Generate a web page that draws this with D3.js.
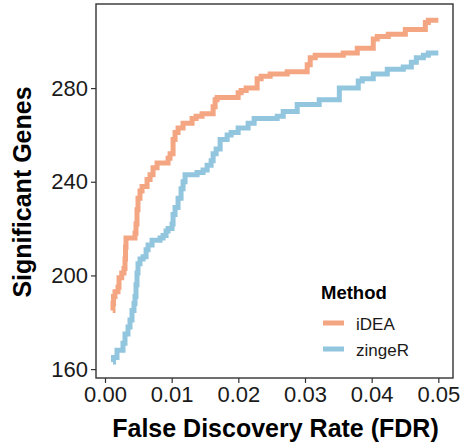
<!DOCTYPE html>
<html>
<head>
<meta charset="utf-8">
<script src="https://cdn.jsdelivr.net/npm/d3@7"></script>
<style>
  body { margin: 0; background: #fff; }
  svg { display: block; font-family: "Liberation Sans", Arial, sans-serif; }
</style>
</head>
<body>
<svg></svg>
<script>
// values
const fdrTicks = [0, 0.01, 0.02, 0.03, 0.04, 0.05]
const geneTicks = [160, 200, 240, 280]
const methods = ["iDEA", "zingeR"]

const ideaFdr = [0.00116, 0.0012, 0.00128, 0.0015, 0.00195, 0.0021, 0.00251, 0.00285, 0.003, 0.00308,
  0.00315, 0.0045, 0.00465, 0.0048, 0.00495, 0.00525, 0.00556, 0.00631, 0.00676, 0.00721,
  0.00781, 0.00946, 0.00976, 0.01021, 0.01051, 0.01096, 0.01171, 0.01306, 0.01366, 0.01456,
  0.01622, 0.01652, 0.01682, 0.01997, 0.02042, 0.02117, 0.02282, 0.02342, 0.02477, 0.02733,
  0.03033, 0.03078, 0.03153, 0.03574, 0.03784, 0.04024, 0.04084, 0.04249, 0.04505, 0.04805,
  0.0485, 0.05]
const ideaGenes = [185, 188, 191, 193, 195, 199, 201, 203, 207, 212,
  216, 218, 222, 228, 233, 236, 238, 241, 243, 246,
  248, 250, 252, 258, 261, 263, 265, 267, 268, 269,
  272, 275, 276, 278, 279, 280, 284, 285, 286, 287,
  290, 293, 294, 295, 297, 301, 302, 303, 305, 308,
  309, 309]

const zingerFdr = [0.0012, 0.00128, 0.0018, 0.0027, 0.003, 0.00345, 0.00375, 0.00405, 0.00435, 0.0045,
  0.00465, 0.0048, 0.00495, 0.00525, 0.00571, 0.00616, 0.00646, 0.00706, 0.00826, 0.00871,
  0.00916, 0.00946, 0.01006, 0.01021, 0.01051, 0.01096, 0.01141, 0.01171, 0.01201, 0.01381,
  0.01471, 0.01532, 0.01592, 0.01622, 0.01667, 0.01727, 0.01832, 0.01892, 0.01997, 0.02147,
  0.02237, 0.02583, 0.02673, 0.02883, 0.03213, 0.03515, 0.03799, 0.03859, 0.04024, 0.04234,
  0.04474, 0.04595, 0.0467, 0.04775, 0.0485, 0.05]
const zingerGenes = [163, 165, 168, 171, 175, 178, 181, 185, 188, 191,
  196, 201, 205, 207, 208, 211, 213, 215, 216, 217,
  219, 220, 222, 226, 229, 233, 237, 240, 243, 244,
  245, 247, 249, 252, 254, 258, 260, 261, 263, 265,
  267, 268, 270, 273, 275, 280, 283, 284, 286, 288,
  289, 291, 293, 294, 295, 295]

const colors = ["#F4A582", "#92C5DE"]

const series = [
  {name: methods[0], fdr: ideaFdr, genes: ideaGenes, color: colors[0]},
  {name: methods[1], fdr: zingerFdr, genes: zingerGenes, color: colors[1]}
]

const width = 462
const height = 448
const panel = {left: 96, right: 453, top: 4, bottom: 378}

const svg = d3.select("svg")
  .attr("width", width)
  .attr("height", height)

const x = d3.scaleLinear()
  .domain([-0.00135, 0.0522])
  .range([panel.left, panel.right])

const y = d3.scaleLinear()
  .domain([156.2, 315.9])
  .range([panel.bottom, panel.top])

// lines
const lineGen = d3.line()
  .x(d => x(d[0]))
  .y(d => y(d[1]))
  .curve(d3.curveStepAfter)

svg.append("g")
  .selectAll("path")
  .data(series)
  .enter()
  .append("path")
  .attr("d", s => lineGen(s.fdr.map((f, i) => [f, s.genes[i]])))
  .attr("fill", "none")
  .attr("stroke", s => s.color)
  .attr("stroke-width", 5)

// panel border
svg.append("rect")
  .attr("x", panel.left)
  .attr("y", panel.top)
  .attr("width", panel.right - panel.left)
  .attr("height", panel.bottom - panel.top)
  .attr("fill", "none")
  .attr("stroke", "#333")
  .attr("stroke-width", 1.4)

// axes
const xAxis = svg.append("g")
  .attr("transform", `translate(0,${panel.bottom})`)
  .call(d3.axisBottom(x).tickValues(fdrTicks).tickFormat(d3.format(".2f")).tickSize(5).tickPadding(3))

const yAxis = svg.append("g")
  .attr("transform", `translate(${panel.left},0)`)
  .call(d3.axisLeft(y).tickValues(geneTicks).tickSize(5).tickPadding(3))

;[xAxis, yAxis].forEach(g => {
  g.select(".domain").remove()
  g.selectAll(".tick line").attr("stroke", "#333").attr("stroke-width", 1.2)
  g.selectAll(".tick text")
    .attr("fill", "#1a1a1a")
    .style("font-size", "22px")
    .style("font-family", "'Liberation Sans', Arial, sans-serif")
})

// axis titles
svg.append("text")
  .attr("x", (panel.left + panel.right) / 2 + 1)
  .attr("y", 437)
  .attr("text-anchor", "middle")
  .style("font-size", "25px")
  .style("font-weight", "bold")
  .attr("fill", "#000")
  .text("False Discovery Rate (FDR)")

svg.append("text")
  .attr("transform", `translate(31,${(panel.top + panel.bottom) / 2 + 1}) rotate(-90)`)
  .attr("text-anchor", "middle")
  .style("font-size", "25px")
  .style("font-weight", "bold")
  .attr("fill", "#000")
  .text("Significant Genes")

// legend
const legend = svg.append("g").attr("transform", "translate(321,299)")

legend.append("text")
  .attr("x", 0)
  .attr("y", 0)
  .style("font-size", "18.5px")
  .style("font-weight", "bold")
  .text("Method")

const items = legend.selectAll("g.item")
  .data(series)
  .enter()
  .append("g")
  .attr("class", "item")
  .attr("transform", (d, i) => `translate(0,${24 + i * 26})`)

items.append("line")
  .attr("x1", 2).attr("x2", 23)
  .attr("y1", 0).attr("y2", 0)
  .attr("stroke", d => d.color)
  .attr("stroke-width", 5)

items.append("text")
  .attr("x", 35)
  .attr("y", 6.5)
  .style("font-size", "17px")
  .attr("fill", "#1a1a1a")
  .text(d => d.name)
</script>
</body>
</html>
